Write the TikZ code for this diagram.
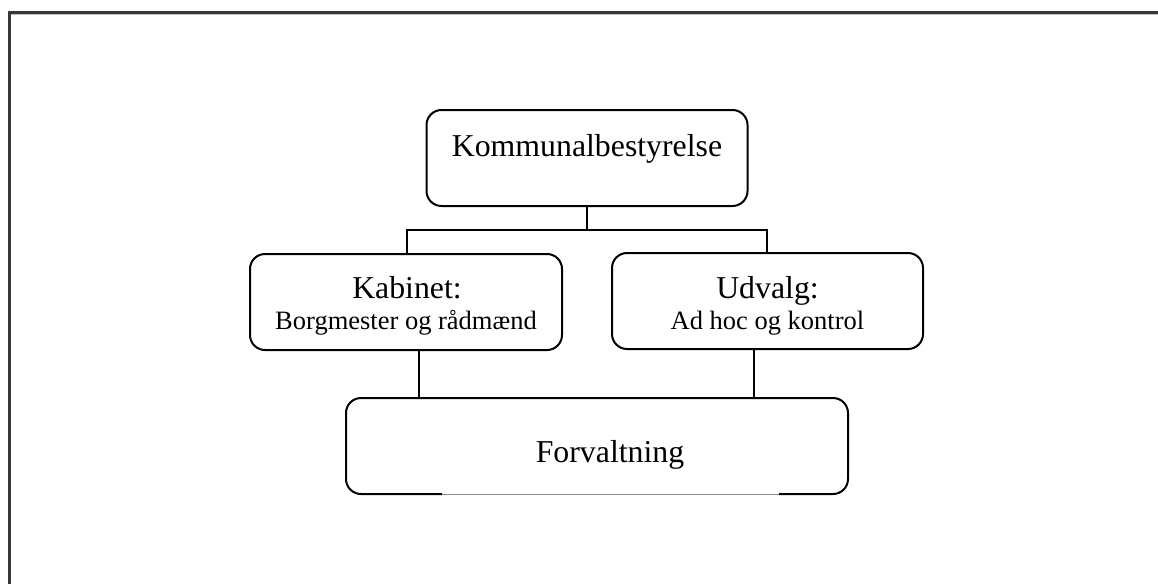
\documentclass[tikz,border=0pt]{standalone}
\usepackage{fontspec}
\setmainfont{Liberation Serif}
\begin{document}
\begin{tikzpicture}[x=1pt,y=-1pt,
  box/.style={draw=black, line width=2pt, rounded corners=15pt, inner sep=0pt, fill=white},
  link/.style={draw=black, line width=2.6pt},
  big/.style={font=\fontsize{31.8}{38}\selectfont, anchor=base, inner sep=0pt},
  small/.style={font=\fontsize{26.5}{32}\selectfont, anchor=base, inner sep=0pt}]
\useasboundingbox (0,0) rectangle (1158,584);
% outer frame (top and left only)
\draw[draw=black!78, line width=3pt] (9.5,584) -- (9.5,12.5) -- (1158,12.5);
\draw[draw=black!25, line width=1pt] (11,14.5) -- (1158,14.5);
% boxes
\node[box, minimum width=321pt, minimum height=96pt] (kb) at (587,158) {};
\node[big] (kbt) at (587,156) {Kommunalbestyrelse};
\node[box, minimum width=312pt, minimum height=96pt] (kab) at (406,302) {};
\node[big] (kabt) at (407,298) {Kabinet:};
\node[small] (kabs) at (406,329) {Borgmester og rådmænd};
\node[box, minimum width=311pt, minimum height=96pt] (udv) at (767.5,301) {};
\node[big] (udvt) at (767.5,298) {Udvalg:};
\node[small] (udvs) at (767.5,329) {Ad hoc og kontrol};
\node[box, minimum width=502pt, minimum height=96pt] (forv) at (597,446) {};
\node[big] (forvt) at (610,462) {Forvaltning};
% faint middle part of the bottom edge of Forvaltning
\draw[draw=white, line width=3pt] (442,494) -- (779,494);
\draw[draw=black!45, line width=1pt] (442,494) -- (779,494);
% connectors
\coordinate (bar) at (587,230);
\draw[link] (kb.south) -- (bar);
\draw[link] (kab.north -| 407,0) |- (bar) -| (udv.north -| 767,0);
\draw[link] (kab.south -| 419,0) -- (forv.north -| 419,0);
\draw[link] (udv.south -| 754,0) -- (forv.north -| 754,0);
\end{tikzpicture}
\end{document}
